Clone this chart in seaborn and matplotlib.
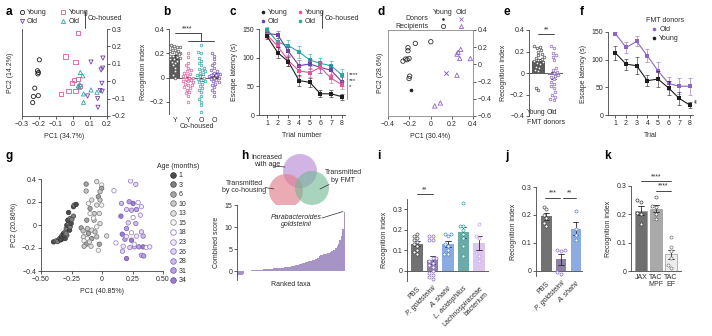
import warnings
warnings.filterwarnings("ignore")

import numpy as np
import pandas as pd
import matplotlib
matplotlib.use("Agg")
import matplotlib.pyplot as plt
from matplotlib.lines import Line2D
from matplotlib.patches import Circle
import seaborn as sns

# ---------------- data ----------------
# a: PCoA of faecal microbiota (young, old, co-housed young / old)
a_young_x = [-0.198, -0.209, -0.207, -0.203, -0.225, -0.233, -0.237, -0.204]
a_young_y = [0.123, 0.060, 0.042, 0.050, -0.040, -0.088, -0.123, -0.083]
a_old_x = [0.106, 0.176, 0.165, 0.174, 0.170, 0.160, 0.086, 0.145, 0.147, 0.172]
a_old_y = [0.110, 0.133, 0.065, 0.075, -0.012, -0.054, -0.085, -0.100, -0.150, -0.058]
a_chy_x = [0.029, -0.044, 0.015, -0.007, 0.007, 0.029, -0.026, 0.015, -0.072, 0.043]
a_chy_y = [0.275, 0.142, 0.112, -0.008, 0.008, 0.012, -0.054, -0.054, -0.073, -0.027]
a_cho_x = [0.043, 0.057, 0.031, 0.037, 0.062, 0.062, 0.106, 0.141, 0.040]
a_cho_y = [0.050, 0.031, -0.027, -0.035, -0.073, -0.121, -0.050, -0.063, -0.020]

# b: recognition index
b_young = [0.27, 0.26, 0.25, 0.25, 0.24, 0.23, 0.22, 0.22, 0.21, 0.20, 0.20, 0.19, 0.18,
           0.18, 0.17, 0.16, 0.15, 0.15, 0.14, 0.13, 0.12, 0.10, 0.08, 0.05, 0.02, 0.00]
b_ch_young = [0.20, 0.17, 0.12, 0.10, 0.08, 0.05, 0.04, 0.03, 0.02, 0.01, 0.00, -0.01, -0.02, -0.03,
              -0.04, -0.05, -0.06, -0.06, -0.08, -0.09, -0.10, -0.12, -0.13, -0.15, -0.20, -0.03, 0.00, 0.06]
b_ch_old = [0.27, 0.21, 0.20, 0.16, 0.14, 0.12, 0.10, 0.08, 0.07, 0.05, 0.04, 0.03, 0.02, 0.01, 0.00,
            -0.01, -0.02, -0.03, -0.05, -0.07, -0.09, -0.10, -0.12, -0.15, -0.18, -0.20, -0.23, -0.28, 0.06, -0.04]
b_old = [0.20, 0.18, 0.15, 0.12, 0.10, 0.08, 0.06, 0.05, 0.04, 0.03, 0.02, 0.01, 0.00, 0.00,
         -0.01, -0.02, -0.03, -0.04, -0.05, -0.06, -0.08, -0.10, -0.12, -0.15, 0.02, 0.03]
b_ticklabels = ["Y", "Y", "O", "O"]

# c: Barnes maze escape latency (mean, s.e.m.)
trials = [1, 2, 3, 4, 5, 6, 7, 8]
c_young = [137, 109, 93, 60, 57, 37, 37, 32]
c_young_err = [5, 10, 8, 10, 8, 6, 6, 5]
c_ch_young = [140, 120, 95, 77, 74, 83, 64, 53]
c_ch_young_err = [6, 8, 10, 9, 8, 9, 8, 7]
c_old = [142, 140, 111, 86, 89, 83, 78, 58]
c_old_err = [5, 6, 8, 10, 9, 10, 9, 8]
c_ch_old = [149, 127, 121, 110, 96, 90, 86, 70]
c_ch_old_err = [4, 8, 9, 11, 10, 10, 8, 11]

# d: PCoA after FMT
d_rec_young_x = [-0.143, 0.003, -0.212, -0.212, -0.259, -0.234, -0.202, -0.196, -0.202, -0.220]
d_rec_young_y = [0.244, 0.264, 0.194, 0.159, 0.038, 0.062, 0.069, -0.137, -0.164, 0.055]
d_don_young_x = [-0.180]
d_don_young_y = [-0.300]
d_don_old_x = [0.143]
d_don_old_y = [-0.098]
d_rec_old_x = [0.284, 0.249, 0.260, 0.275, 0.375, 0.249, 0.093, 0.040]
d_rec_old_y = [0.174, 0.120, 0.140, 0.069, 0.069, -0.125, -0.448, -0.483]

# e: recognition index after FMT
e_young = [0.25, 0.24, 0.23, 0.21, 0.20, 0.18, 0.17, 0.15, 0.14, 0.13, 0.12, 0.11, 0.10,
           0.09, 0.08, 0.06, 0.05, 0.03, 0.02, -0.14, -0.16]
e_old = [0.25, 0.23, 0.19, 0.17, 0.15, 0.12, 0.05, 0.03, 0.00, -0.02, -0.04, -0.06, -0.08, -0.10,
         -0.12, -0.14, -0.18, -0.20, -0.22, -0.24, -0.25, 0.01, -0.03]
e_ticklabels = ["Young", "Old"]

# f: escape latency after FMT
f_old = [147, 122, 133, 107, 80, 57, 52, 52]
f_old_err = [3, 10, 9, 12, 16, 12, 14, 15]
f_young = [112, 92, 89, 62, 65, 49, 30, 18]
f_young_err = [12, 10, 15, 10, 15, 12, 12, 5]

# g: PCoA across ages
g_pc1 = [-0.397, -0.375, -0.356, -0.348, -0.334, -0.326, -0.315, -0.302, -0.315, -0.293, -0.288, -0.274,
         -0.280, -0.261, -0.274, -0.234, -0.234, -0.228, -0.212, -0.329, -0.302, -0.288, -0.266, -0.261,
         -0.253, -0.247, -0.310, -0.365, -0.340, -0.295,
         -0.130, -0.130, -0.043, -0.003, -0.003, -0.016, -0.084, -0.111, -0.030, -0.016, -0.043, -0.003,
         -0.098, -0.063, -0.022, -0.098, -0.125, -0.065, -0.016, -0.043, -0.171, -0.120, -0.084, -0.139,
         -0.111, -0.057, -0.152, -0.120, -0.084, -0.043, 0.038, -0.147, -0.130, -0.147, -0.090, -0.030,
         -0.022, -0.155, -0.103, -0.070,
         0.098, 0.234, 0.277, 0.160, 0.223, 0.255, 0.296, 0.323, 0.201, 0.242, 0.283, 0.155, 0.255,
         0.315, 0.215, 0.277, 0.201, 0.166, 0.242, 0.283, 0.323, 0.337, 0.188, 0.242, 0.114, 0.174,
         0.228, 0.266, 0.302, 0.337, 0.364, 0.391, 0.168, 0.323, 0.342, 0.201, 0.264, 0.200]
g_pc2 = [-0.147, -0.138, -0.132, -0.118, -0.103, -0.089, -0.074, -0.060, -0.103, -0.030, -0.001, 0.019,
         0.042, 0.057, 0.109, 0.077, 0.159, 0.173, 0.179, -0.124, -0.118, -0.089, -0.045, -0.016,
         0.013, 0.048, -0.090, -0.145, -0.130, -0.075,
         0.356, 0.295, 0.377, 0.348, 0.319, 0.290, 0.217, 0.188, 0.246, 0.217, 0.173, 0.173,
         0.144, 0.100, 0.100, 0.100, 0.042, 0.042, 0.013, -0.016, -0.025, -0.031, -0.045, -0.068,
         -0.074, -0.060, -0.103, -0.118, -0.118, -0.103, -0.095, -0.138, -0.167, -0.185, -0.185, -0.220,
         -0.167, -0.050, -0.147, 0.060,
         0.298, 0.383, 0.353, 0.188, 0.202, 0.188, 0.196, 0.159, 0.135, 0.129, 0.135, 0.077, 0.065,
         0.086, 0.019, 0.013, -0.031, -0.080, -0.068, -0.097, -0.060, -0.097, -0.124, -0.132, -0.156,
         -0.185, -0.196, -0.190, -0.190, -0.190, -0.196, -0.190, -0.228, -0.263, -0.269, -0.292, -0.167, -0.100]
g_age = ([1, 3] * 15 + [6, 10, 13, 15] * 10 + [18, 23, 26, 28, 31, 34] * 6 + [18, 23])
g_age_levels = [1, 3, 6, 10, 13, 15, 18, 23, 26, 28, 31, 34]

# h: combined score of ranked taxa
h_scores = [-1.0, -0.9, -0.85, -0.8, -0.75, 0.05, 0.08, 0.10, 0.12, 0.15, 0.18, 0.20, 0.22, 0.25,
            0.28, 0.30, 0.32, 0.35, 0.38, 0.40, 0.42, 0.45, 0.48, 0.50, 0.55, 0.60, 0.62, 0.65, 0.68,
            0.70, 0.72, 0.75, 0.78, 0.80, 0.85, 0.90, 0.95, 1.00, 1.05, 1.10, 1.15, 1.20, 1.30, 1.40,
            1.50, 1.60, 1.70, 1.80, 1.90, 2.00, 2.10, 2.20, 2.30, 2.40, 2.50, 2.60, 2.70, 2.80, 3.00,
            3.50, 3.60, 3.70, 3.80, 3.90, 4.00, 4.10, 4.20, 4.30, 4.50, 4.70, 4.90, 5.20, 5.60, 6.20,
            7.00, 8.00, 9.50, 13.5]

# i: single-strain gavage
i_groups = ["PBS", "P. goldsteinii", "A. shahii", "L. acidophilus", "Lachnospiraceae\nbacterium"]
i_pbs = [0.18, 0.17, 0.16, 0.15, 0.14, 0.13, 0.12, 0.10, 0.09, 0.08]
i_pgold = [0.17, 0.17, 0.15, 0.15, 0.06, 0.03, 0.06, 0.05, 0.04, 0.02, 0.00, -0.01, -0.02, -0.03, -0.04]
i_ashahii = [0.18, 0.18, 0.17, 0.13, 0.12, 0.10, 0.08, 0.08]
i_lacido = [0.33, 0.22, 0.22, 0.20, 0.18, 0.16, 0.12, 0.07]
i_lachno = [0.23, 0.17, 0.16, 0.07, 0.05]

# j
j_groups = ["PBS", "P. goldsteinii", "A. shahii"]
j_pbs = [0.23, 0.22, 0.20, 0.19, 0.17, 0.16]
j_pgold = [0.075, 0.07, 0.075, -0.005, -0.01]
j_ashahii = [0.215, 0.15, 0.13, 0.11]

# k: vendor / microbiota status
k_groups = ["JAX", "TAC\nMPF", "TAC\nEF"]
k_jax = [0.25, 0.245, 0.205, 0.20, 0.165]
k_mpf = [0.26, 0.23, 0.225, 0.20, 0.185]
k_ef = [0.12, 0.085, 0.07, 0.045, 0.02, 0.01]

# ---------------- style ----------------
INK = "#2b2b2b"
BLACK = "#1e1e1e"
PINK = "#e0589a"
TEAL = "#2fa5a2"
PURPLE = "#6d43a3"
LPURPLE = "#8d66c4"
DGREY = "#5c5c5c"

sns.set_theme(style="ticks")
plt.rcParams.update({
    "font.family": ["Liberation Sans", "DejaVu Sans"],
    "font.size": 5,
    "axes.linewidth": 0.6,
    "axes.edgecolor": "#444444",
    "xtick.color": "#444444", "ytick.color": "#444444",
    "xtick.labelcolor": INK, "ytick.labelcolor": INK,
    "xtick.major.width": 0.6, "ytick.major.width": 0.6,
    "xtick.major.size": 2, "ytick.major.size": 2,
    "xtick.major.pad": 1.5, "ytick.major.pad": 1.5,
    "xtick.labelsize": 5, "ytick.labelsize": 5,
    "axes.labelsize": 5, "axes.labelpad": 2,
    "axes.labelcolor": INK, "text.color": INK,
    "legend.fontsize": 5,
})

W, H = 712, 336
fig = plt.figure(figsize=(W / 100, H / 100), dpi=100)


def axpx(l, t, r, b):
    return fig.add_axes([l / W, 1 - b / H, (r - l) / W, (b - t) / H])


def ftext(x, y, s, **kw):
    kw.setdefault("fontsize", 5)
    return fig.text(x / W, 1 - y / H, s, **kw)


def fline(xs, ys, **kw):
    kw.setdefault("lw", 0.6)
    kw.setdefault("color", INK)
    fig.add_artist(Line2D([x / W for x in xs], [1 - y / H for y in ys],
                          transform=fig.transFigure, **kw))


def fmark(x, y, **kw):
    fig.add_artist(Line2D([x / W], [1 - y / H], transform=fig.transFigure, ls="none", **kw))


def num(v):
    return "0" if v == 0 else f"{v:g}".replace("-", "\u2212")


def set_ticks(ax, axis, vals, labels=None):
    labels = labels if labels is not None else [num(v) for v in vals]
    if axis == "x":
        ax.set_xticks(vals)
        ax.set_xticklabels(labels)
    else:
        ax.set_yticks(vals)
        ax.set_yticklabels(labels)


def restyle_points(ax, start, face="white", lw=0.5):
    """Swarm points: outline in their palette colour, plain fill."""
    for coll in ax.collections[start:]:
        fc = coll.get_facecolors()
        if len(fc) == 0:
            continue
        coll.set_edgecolor(fc[0].copy())
        coll.set_facecolor(face)
        coll.set_linewidth(lw)


def letter(x, y, s):
    ftext(x, y, s, fontsize=8.5, fontweight="bold", va="center", ha="left", color="black")


def sig(ax, x0, x1, y, txt, dy=0.004):
    ax.plot([x0, x1], [y, y], color=INK, lw=0.6, clip_on=False)
    ax.text((x0 + x1) / 2, y + dy, txt, ha="center", va="bottom", fontsize=5, clip_on=False)


def hollow_scatter(ax, xs, ys, marker, color, s=10, lw=0.6, filled=False):
    sns.scatterplot(x=xs, y=ys, marker=marker, color=color, s=s, ax=ax, linewidth=lw)
    coll = ax.collections[-1]
    coll.set_edgecolor(color)
    coll.set_facecolor(color if filled else "none")
    coll.set_linewidth(lw)


def bar_swarm(ax, groups, values, bar_cols, pt_cols, width=0.7, size=2.4, bar_edge=None):
    df = pd.DataFrame({"grp": np.repeat(groups, [len(v) for v in values]),
                       "val": np.concatenate(values)})
    sns.barplot(data=df, x="grp", y="val", hue="grp", order=groups, hue_order=groups,
                palette=dict(zip(groups, bar_cols)), errorbar="se", capsize=0.35,
                err_kws={"linewidth": 0.6, "color": INK}, width=width, legend=False, ax=ax,
                edgecolor=bar_edge if bar_edge else "none", linewidth=0.5 if bar_edge else 0)
    start = len(ax.collections)
    sns.swarmplot(data=df, x="grp", y="val", hue="grp", order=groups, hue_order=groups,
                  palette=dict(zip(groups, pt_cols)), size=size, legend=False, ax=ax)
    restyle_points(ax, start)


# ================= a =================
letter(6, 12, "a")
ax = axpx(22, 29, 107, 116)
hollow_scatter(ax, a_young_x, a_young_y, "o", BLACK, s=9)
hollow_scatter(ax, a_old_x, a_old_y, "v", PURPLE, s=9)
hollow_scatter(ax, a_chy_x, a_chy_y, "s", PINK, s=9)
hollow_scatter(ax, a_cho_x, a_cho_y, "^", TEAL, s=9)
ax.set_xlim(-0.3, 0.2)
ax.set_ylim(-0.2, 0.3)
ax.yaxis.tick_right()
ax.spines["top"].set_visible(False)
set_ticks(ax, "x", [-0.3, -0.2, -0.1, 0, 0.1, 0.2])
set_ticks(ax, "y", [-0.2, -0.1, 0, 0.1, 0.2, 0.3])
ax.set_xlabel("PC1 (34.7%)", labelpad=4)
ax.set_ylabel("PC2 (14.2%)", labelpad=6)
h_a = [Line2D([], [], ls="none", marker=m, mfc="none", mec=c, mew=0.6, ms=3.0)
       for m, c in [("o", BLACK), ("v", PURPLE), ("s", PINK), ("^", TEAL)]]
ax.legend(h_a, ["Young", "Old", "Young", "Old"], ncol=2, loc="upper left",
          bbox_to_anchor=(19 / W, 1 - 9 / H), bbox_transform=fig.transFigure, frameon=False,
          handlelength=0.8, handletextpad=0.35, columnspacing=2.0, labelspacing=0.3,
          borderpad=0, borderaxespad=0)
fline([85, 85], [11, 28])
ftext(87.5, 19, "Co-housed", va="center")

# ================= b =================
letter(163, 12, "b")
ax = axpx(169, 29, 221, 114)
b_groups = ["Y", "cY", "cO", "O"]
ax.axhline(0, color="#444444", lw=0.6, zorder=0.5)
bar_swarm(ax, b_groups, [b_young, b_ch_young, b_ch_old, b_old],
          [DGREY, PINK, TEAL, PURPLE], ["#555555", PINK, TEAL, "#7a52b3"], width=0.75, size=1.9)
ax.set_xlim(-0.46, 3.5)
ax.set_ylim(-0.3, 0.4)
set_ticks(ax, "y", [-0.2, 0, 0.2, 0.4])
set_ticks(ax, "x", [0, 1, 2, 3], b_ticklabels)
ax.tick_params(axis="x", length=0, pad=2)
for s in ["top", "right", "bottom"]:
    ax.spines[s].set_visible(False)
ax.set_xlabel("")
ax.set_ylabel("Recognition index", labelpad=2)
ax.plot([0, 2, 2], [0.365, 0.365, 0.30], color=INK, lw=0.6, clip_on=False)
ax.plot([1, 3], [0.30, 0.30], color=INK, lw=0.6, clip_on=False)
ax.text(0.9, 0.37, "****", ha="center", va="bottom", fontsize=5, clip_on=False)
ftext(197, 127, "Co-housed", ha="center", va="center")

# ================= c =================
letter(229, 12, "c")
ax = axpx(259, 29, 345, 115)
for ys, es, col in [(c_ch_old, c_ch_old_err, TEAL), (c_old, c_old_err, PURPLE),
                    (c_ch_young, c_ch_young_err, PINK), (c_young, c_young_err, BLACK)]:
    ax.errorbar(trials, ys, yerr=es, fmt="none", ecolor=col, elinewidth=0.5, capsize=1.3,
                capthick=0.5, alpha=0.8, clip_on=False)
    sns.lineplot(x=trials, y=ys, color=col, lw=0.8, marker="s", markersize=2.2,
                 markeredgewidth=0, ax=ax, clip_on=False)
ax.set_xlim(0.25, 8.3)
ax.set_ylim(0, 150)
set_ticks(ax, "x", trials)
set_ticks(ax, "y", [0, 50, 100, 150])
sns.despine(ax=ax)
ax.set_xlabel("Trial number", labelpad=4)
ax.set_ylabel("Escape latency (s)", labelpad=3)
h_c = [Line2D([], [], ls="none", marker="o", color=c, ms=2.6, mew=0)
       for c in [BLACK, PURPLE, PINK, TEAL]]
ax.legend(h_c, ["Young", "Old", "Young", "Old"], ncol=2, loc="upper left",
          bbox_to_anchor=(260 / W, 1 - 9 / H), bbox_transform=fig.transFigure, frameon=False,
          handlelength=0.8, handletextpad=0.35, columnspacing=1.3, labelspacing=0.3,
          borderpad=0, borderaxespad=0)
fline([322, 322], [11, 28])
ftext(324.5, 19, "Co-housed", va="center")
fline([347, 347], [72, 99], color="#888888")
ftext(348.5, 75, "****", va="center", fontsize=4.5)
ftext(348.5, 81, "***", va="center", fontsize=4.5)
ftext(348.5, 87, "*", va="center", fontsize=4.5)

# ================= d =================
letter(378, 12, "d")
ax = axpx(388, 30, 473, 116)
hollow_scatter(ax, d_rec_young_x, d_rec_young_y, "o", "#333333")
hollow_scatter(ax, d_rec_old_x, d_rec_old_y, "^", LPURPLE)
hollow_scatter(ax, d_don_young_x, d_don_young_y, "o", BLACK, s=4, filled=True)
sns.scatterplot(x=d_don_old_x, y=d_don_old_y, marker="x", color=LPURPLE, s=10, ax=ax, linewidth=0.7)
ax.set_xlim(-0.4, 0.4)
ax.set_ylim(-0.6, 0.4)
ax.yaxis.tick_right()
for s in ax.spines.values():
    s.set_color("#888888")
set_ticks(ax, "x", [-0.4, -0.2, 0, 0.2, 0.4])
set_ticks(ax, "y", [-0.6, -0.4, -0.2, 0, 0.2, 0.4])
ax.set_xlabel("PC1 (30.4%)", labelpad=4)
ax.set_ylabel("PC2 (28.6%)", labelpad=3)
ftext(443, 12.5, "Young", ha="center", va="center")
ftext(461, 12.5, "Old", ha="center", va="center")
ftext(428, 19, "Donors", ha="right", va="center")
ftext(428, 26, "Recipients", ha="right", va="center")
fmark(443, 19, marker="o", color=BLACK, ms=1.8, mew=0)
fmark(461, 19, marker="x", color=LPURPLE, ms=3, mew=0.6)
fmark(443, 26, marker="o", mfc="none", mec="#333333", ms=3, mew=0.6)
fmark(461, 26, marker="^", mfc="none", mec=LPURPLE, ms=3, mew=0.6)

# ================= e =================
letter(504, 12, "e")
ax = axpx(529, 30, 563, 116)
ax.axhline(0, color="#444444", lw=0.6, zorder=0.5)
bar_swarm(ax, ["Young", "Old"], [e_young, e_old], [DGREY, LPURPLE], ["#4a4a4a", LPURPLE],
          width=0.8, size=1.9)
ax.set_xlim(-0.62, 1.6)
ax.set_ylim(-0.4, 0.4)
set_ticks(ax, "y", [-0.4, -0.2, 0, 0.2, 0.4])
# the two group names sit side by side just above the bottom of the axis
ax.set_xticks([0.45, 0.55])
ax.set_xticklabels(e_ticklabels)
xl = ax.get_xticklabels()
xl[0].set_horizontalalignment("right")
xl[1].set_horizontalalignment("left")
ax.tick_params(axis="x", length=0, pad=-5, labelsize=4.8)
for s in ["top", "right", "bottom"]:
    ax.spines[s].set_visible(False)
ax.set_xlabel("FMT donors", labelpad=2)
ax.set_ylabel("Recognition index", labelpad=2)
sig(ax, 0, 1, 0.36, "**")

# ================= f =================
letter(580, 12, "f")
ax = axpx(608, 32, 693, 115)
for ys, es, col in [(f_old, f_old_err, LPURPLE), (f_young, f_young_err, BLACK)]:
    ax.errorbar(trials, ys, yerr=es, fmt="none", ecolor=col, elinewidth=0.5, capsize=1.3,
                capthick=0.5, alpha=0.8, clip_on=False)
    sns.lineplot(x=trials, y=ys, color=col, lw=0.8, marker="s", markersize=2.2,
                 markeredgewidth=0, ax=ax, clip_on=False)
ax.set_xlim(0.3, 8.3)
ax.set_ylim(0, 150)
set_ticks(ax, "x", trials)
set_ticks(ax, "y", [0, 50, 100, 150])
sns.despine(ax=ax)
ax.set_xlabel("Trial", labelpad=4)
ax.set_ylabel("Escape latency (s)", labelpad=3)
h_f = [Line2D([], [], ls="none", marker="o", color=c, ms=2.6, mew=0) for c in [LPURPLE, BLACK]]
ax.legend(h_f, ["Old", "Young"], title="FMT donors", title_fontsize=5, loc="upper left",
          bbox_to_anchor=(646 / W, 1 - 17 / H), bbox_transform=fig.transFigure, frameon=False,
          handlelength=0.8, handletextpad=0.35, labelspacing=0.3, borderpad=0, borderaxespad=0)
ftext(698, 100, "**", rotation=90, ha="center", va="center")

# ================= g =================
letter(6, 156, "g")
ax = axpx(41, 179, 163, 271)
g_face = {1: "#4d4d4d", 3: "#808080", 6: "#a6a6a6", 10: "#c8c8c8", 13: "#e0e0e0", 15: "#f5f5f5",
          18: "#ffffff", 23: "#f0eaf8", 26: "#e0d5f0", 28: "#cdbde8", 31: "#b8a2dd", 34: "#9a7fcc"}
g_edge = {1: "#333333", 3: "#4f4f4f", 6: "#666666", 10: "#777777", 13: "#858585", 15: "#959595",
          18: "#9b82c8", 23: "#9b82c8", 26: "#9278c2", 28: "#8a6fbe", 31: "#7f62b6", 34: "#7357ae"}
df_g = pd.DataFrame({"pc1": g_pc1, "pc2": g_pc2, "age": g_age})
sns.scatterplot(data=df_g, x="pc1", y="pc2", hue="age", palette=g_face, s=10, linewidth=0.55,
                legend=False, ax=ax)
ax.collections[-1].set_edgecolors([g_edge[a] for a in df_g["age"]])
ax.set_xlim(-0.5, 0.5)
ax.set_ylim(-0.4, 0.4)
set_ticks(ax, "x", [-0.5, -0.25, 0, 0.25, 0.5], ["\u22120.50", "\u22120.25", "0", "0.25", "0.50"])
set_ticks(ax, "y", [-0.4, -0.2, 0, 0.2, 0.4])
sns.despine(ax=ax)
ax.set_xlabel("PC1 (40.85%)", labelpad=4)
ax.set_ylabel("PC2 (20.86%)", labelpad=3)
h_g = [Line2D([], [], ls="none", marker="o", mfc=g_face[a], mec=g_edge[a], mew=0.6, ms=4)
       for a in g_age_levels]
ax.legend(h_g, [str(a) for a in g_age_levels], loc="upper left",
          bbox_to_anchor=(171 / W, 1 - 172 / H), bbox_transform=fig.transFigure, frameon=False,
          handlelength=0.6, handletextpad=0.5, labelspacing=0.37, borderpad=0, borderaxespad=0)
ftext(157, 166, "Age (months)", va="center")

# ================= h =================
letter(241, 156, "h")
axv = axpx(258, 148, 338, 212)
axv.set_xlim(258, 338)
axv.set_ylim(212, 148)
axv.axis("off")
axv.add_patch(Circle((300, 171), 17, fc="#c6a2dc", ec="none", alpha=0.8))
axv.add_patch(Circle((286, 191), 17, fc="#e07e8c", ec="none", alpha=0.65))
axv.add_patch(Circle((312, 188), 17, fc="#6fb893", ec="none", alpha=0.6))
ftext(267, 161, "Increased\nwith age", ha="center", va="center", linespacing=1.0)
fline([273, 285], [166, 167], lw=0.5)
ftext(244, 187, "Transmitted\nby co-housing", ha="center", va="center", linespacing=1.0)
fline([265, 274], [187.5, 189], lw=0.5)
ftext(343, 176.5, "Transmitted\nby FMT", ha="center", va="center", linespacing=1.0)
fline([320, 329], [189, 184.5], lw=0.5)

axh = axpx(237, 205, 345, 280)
sns.barplot(x=list(range(len(h_scores))), y=h_scores, color="#a58bd0", width=1.0,
            linewidth=0, ax=axh)
axh.set_xlim(-0.5, len(h_scores) - 0.5)
axh.set_ylim(-2, 15)
axh.set_xticks([])
set_ticks(axh, "y", [0, 5, 10, 15])
for s in ["top", "right", "bottom"]:
    axh.spines[s].set_visible(False)
axh.set_xlabel("Ranked taxa", labelpad=1)
axh.set_ylabel("Combined score", labelpad=3)
ftext(296, 221, "Parabacteroides\ngoldsteinii", ha="center", va="center", style="italic",
      linespacing=1.1)
fline([322, 343], [218, 211.5], lw=0.5)

# ================= i =================
letter(377, 156, "i")
ax = axpx(407, 199, 489, 281)
ax.axhline(0, color="#444444", lw=0.6, zorder=0.5)
bar_swarm(ax, i_groups, [i_pbs, i_pgold, i_ashahii, i_lacido, i_lachno],
          ["#727272", "#8c7ca8", "#7ea8ee", "#5fb5b1", "#dcc0f4"],
          ["#505050", "#8a6dbd", "#4d86e0", "#3a9e9a", "#c59ceb"], width=0.72, size=2.2)
ax.set_xlim(-0.65, 4.65)
ax.set_ylim(-0.05, 0.35)
set_ticks(ax, "y", [0, 0.1, 0.2, 0.3])
ax.set_xticks(range(len(i_groups)))
ax.set_xticklabels(i_groups, rotation=45, ha="right", va="top", rotation_mode="anchor")
for lab in ax.get_xticklabels()[1:4]:
    lab.set_style("italic")
ax.tick_params(axis="x", length=0, pad=3)
for s in ["top", "right", "bottom"]:
    ax.spines[s].set_visible(False)
ax.set_xlabel("")
ax.set_ylabel("Recognition index", labelpad=3)
sig(ax, 0, 1, 0.375, "**")

# ================= j =================
letter(505, 156, "j")
ax = axpx(536, 187, 583, 276)
ax.axhline(0, color="#444444", lw=0.6, zorder=0.5)
bar_swarm(ax, j_groups, [j_pbs, j_pgold, j_ashahii],
          ["#727272", "#8c7ca8", "#7ea8ee"], ["#505050", "#8a6dbd", "#4d86e0"],
          width=0.72, size=2.2)
ax.set_xlim(-0.69, 2.48)
ax.set_ylim(-0.018, 0.3)
set_ticks(ax, "y", [0, 0.1, 0.2, 0.3])
ax.set_xticks(range(len(j_groups)))
ax.set_xticklabels(j_groups, rotation=45, ha="right", va="top", rotation_mode="anchor")
for lab in ax.get_xticklabels()[1:]:
    lab.set_style("italic")
ax.tick_params(axis="x", length=0, pad=3)
for s in ["top", "right", "bottom"]:
    ax.spines[s].set_visible(False)
ax.set_xlabel("")
ax.set_ylabel("Recognition index", labelpad=3)
sig(ax, -0.05, 0.95, 0.262, "***")
sig(ax, 1.1, 2.0, 0.262, "**")

# ================= k =================
letter(604, 156, "k")
ax = axpx(631, 186, 681, 271)
bar_swarm(ax, k_groups, [k_jax, k_mpf, k_ef], ["#6f6f6f", "#a9a9a9", "#ededed"],
          ["#3f3f3f", "#5a5a5a", "#7a7a7a"], width=0.78, size=2.2, bar_edge="#9a9a9a")
ax.set_xlim(-0.67, 2.67)
ax.set_ylim(0, 0.3)
set_ticks(ax, "y", [0, 0.1, 0.2, 0.3])
ax.set_xticks(range(len(k_groups)))
ax.set_xticklabels(k_groups, linespacing=1.0)
ax.tick_params(axis="x", length=0, pad=2)
sns.despine(ax=ax)
ax.set_xlabel("")
ax.set_ylabel("Recognition index", labelpad=3)
sig(ax, 0, 2, 0.316, "****")
sig(ax, 1, 2, 0.283, "****")

fig.savefig("out.png", dpi=100)
